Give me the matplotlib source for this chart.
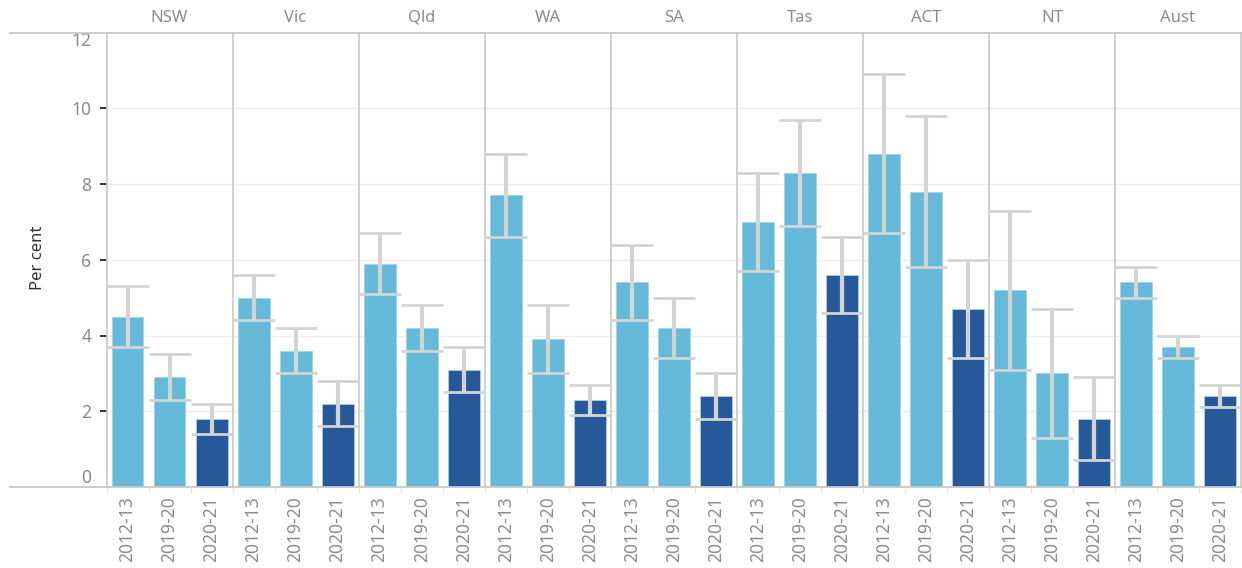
import numpy as np
import matplotlib.pyplot as plt
from matplotlib.lines import Line2D

plt.rcParams['font.family'] = ['Noto Sans', 'DejaVu Sans']

regions = ['NSW', 'Vic', 'Qld', 'WA', 'SA', 'Tas', 'ACT', 'NT', 'Aust']
years = ['2012-13', '2019-20', '2020-21']

# per cent, one row per region, columns = years
value = [
    [4.5, 2.9, 1.8],
    [5.0, 3.6, 2.2],
    [5.9, 4.2, 3.1],
    [7.7, 3.9, 2.3],
    [5.4, 4.2, 2.4],
    [7.0, 8.3, 5.6],
    [8.8, 7.8, 4.7],
    [5.2, 3.0, 1.8],
    [5.4, 3.7, 2.4],
]
upper = [
    [5.3, 3.5, 2.2],
    [5.6, 4.2, 2.8],
    [6.7, 4.8, 3.7],
    [8.8, 4.8, 2.7],
    [6.4, 5.0, 3.0],
    [8.3, 9.7, 6.6],
    [10.9, 9.8, 6.0],
    [7.3, 4.7, 2.9],
    [5.8, 4.0, 2.7],
]
lower = [
    [3.7, 2.3, 1.4],
    [4.4, 3.0, 1.6],
    [5.1, 3.6, 2.5],
    [6.6, 3.0, 1.9],
    [4.4, 3.4, 1.8],
    [5.7, 6.9, 4.6],
    [6.7, 5.8, 3.4],
    [3.1, 1.3, 0.7],
    [5.0, 3.4, 2.1],
]

light = '#65bad9'
dark = '#27599a'
err_col = '#d4d4d4'
line_col = '#c8c8c8'
text_col = '#8c8c8c'

W, H = 1242, 568
fig = plt.figure(figsize=(W / 100, H / 100), dpi=100)
left, right, bottom, top = 106.5, 1241, 487, 32.5
ax = fig.add_axes([left / W, 1 - bottom / H, (right - left) / W, (bottom - top) / H])

val = np.array(value).ravel()
up = np.array(upper).ravel()
lo = np.array(lower).ravel()
x = np.arange(len(val))
colors = [light, light, dark] * len(regions)

ax.bar(x, val, width=0.76, color=colors, edgecolor='#9fd3e8', linewidth=0.6, zorder=2)
ax.vlines(x, lo, up, color=err_col, linewidth=3, zorder=3)
ax.hlines(up, x - 0.5, x + 0.5, color=err_col, linewidth=2, zorder=3)
ax.hlines(lo, x - 0.5, x + 0.5, color=err_col, linewidth=2, zorder=3)

ax.set_xlim(-0.5, len(val) - 0.5)
ax.set_ylim(0, 12)

# panel dividers
for i in range(1, len(regions)):
    ax.axvline(i * 3 - 0.5, color=line_col, linewidth=1.2, zorder=1)

for s in ['top', 'bottom']:
    ax.spines[s].set_visible(False)
for s in ['left', 'right']:
    ax.spines[s].set_color(line_col)
    ax.spines[s].set_linewidth(1.2)

# y axis
ax.set_yticks(range(0, 13, 2))
ax.set_yticklabels([str(v) for v in range(0, 13, 2)])
ax.yaxis.grid(True, color='#eeeeee', linewidth=1, zorder=0)
ax.set_axisbelow(True)
ax.tick_params(axis='y', length=5, width=1.3, color='#222222', labelsize=12.5,
               labelcolor=text_col, pad=6)
ylabels = ax.get_yticklabels()
ylabels[0].set_va('bottom')
ylabels[-1].set_va('top')
yt = ax.yaxis.get_major_ticks()
yt[0].tick1line.set_visible(False)
yt[-1].tick1line.set_visible(False)
ax.yaxis.get_gridlines()[0].set_visible(False)
ax.yaxis.get_gridlines()[-1].set_visible(False)
ax.set_ylabel('Per cent', fontsize=12, color='#333333')
ax.yaxis.set_label_coords((46 - left) / (right - left), 0.505)

# x axis
ax.set_xticks(x)
ax.set_xticklabels(years * len(regions), rotation=90, fontsize=12.5, color=text_col)
ax.tick_params(axis='x', length=0, pad=7)
ax.set_xticks(np.arange(-0.5, len(val), 1), minor=True)
ax.tick_params(axis='x', which='minor', length=4, color='#e6e6e6', width=1)

# region headers
for i, r in enumerate(regions):
    ax.text(i * 3 + 1, 1 + 15 / (bottom - top), r, transform=ax.get_xaxis_transform(),
            ha='center', va='center', fontsize=12, color=text_col)

# header and baseline rules
for yy in [top, bottom]:
    fig.add_artist(Line2D([10 / W, right / W], [1 - yy / H, 1 - yy / H],
                          color=line_col, linewidth=1.3))

fig.savefig('out.png', dpi=100)
